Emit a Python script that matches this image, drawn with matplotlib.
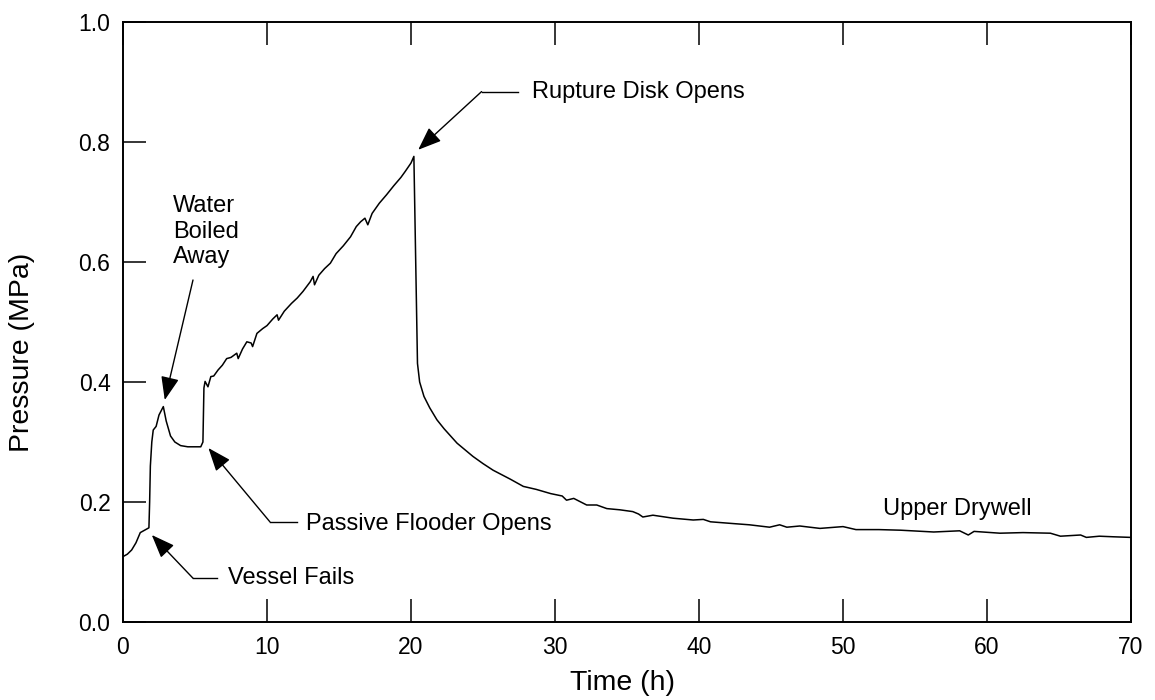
import matplotlib
matplotlib.use("Agg")
import matplotlib.pyplot as plt
from matplotlib.ticker import FormatStrFormatter

plt.rcParams['font.family'] = ['Liberation Sans', 'DejaVu Sans']

# ---- data ----
time_h = [0, 0.3, 0.6, 0.9, 1.2, 1.5, 1.8, 1.85, 1.9, 2.0, 2.1, 2.3, 2.5, 2.8,
          3.0, 3.3, 3.6, 4.0, 4.5, 5.0, 5.4, 5.55, 5.62, 5.7, 5.9, 6.1, 6.3,
          6.6, 6.9, 7.2, 7.5, 7.9, 8.0, 8.3, 8.6, 8.9, 9.0, 9.3, 9.7, 10.0,
          10.4, 10.7, 10.8, 11.2, 11.7, 12.1, 12.5, 13.0, 13.2, 13.3, 13.6,
          14.0, 14.4, 14.8, 15.3, 15.8, 16.2, 16.5, 16.8, 17.0, 17.3, 17.8,
          18.3, 18.8, 19.3, 19.6, 20.0, 20.2, 20.45, 20.6, 20.9, 21.3, 21.8,
          22.3, 23.2, 24.3, 25.0, 25.7, 26.9, 27.8, 28.7, 29.7, 30.5, 30.8,
          31.3, 32.2, 32.9, 33.6, 34.5, 35.4, 35.8, 36.1, 36.8, 38.2, 39.6,
          40.3, 40.8, 42.4, 43.5, 44.9, 45.6, 46.1, 47.0, 48.4, 50.0, 50.9,
          52.5, 54.0, 56.3, 58.1, 58.7, 59.1, 60.9, 62.5, 64.4, 65.1, 66.5,
          66.9, 67.8, 68.8, 70.0]
pressure_mpa = [0.109, 0.113, 0.120, 0.132, 0.149, 0.153, 0.157, 0.200, 0.260,
                0.300, 0.320, 0.326, 0.345, 0.359, 0.335, 0.310, 0.300, 0.294,
                0.292, 0.292, 0.292, 0.300, 0.390, 0.401, 0.392, 0.409, 0.410,
                0.420, 0.428, 0.439, 0.441, 0.448, 0.439, 0.455, 0.467, 0.465,
                0.459, 0.481, 0.489, 0.494, 0.505, 0.512, 0.503, 0.518, 0.531,
                0.540, 0.551, 0.567, 0.576, 0.562, 0.578, 0.589, 0.598, 0.614,
                0.627, 0.642, 0.659, 0.667, 0.673, 0.662, 0.681, 0.698, 0.712,
                0.727, 0.741, 0.751, 0.765, 0.776, 0.431, 0.400, 0.376, 0.357,
                0.337, 0.322, 0.298, 0.276, 0.264, 0.253, 0.238, 0.226, 0.221,
                0.214, 0.210, 0.203, 0.206, 0.195, 0.195, 0.189, 0.187, 0.184,
                0.180, 0.175, 0.178, 0.173, 0.170, 0.171, 0.167, 0.164, 0.162,
                0.158, 0.162, 0.158, 0.160, 0.156, 0.159, 0.154, 0.154, 0.153,
                0.150, 0.152, 0.145, 0.151, 0.148, 0.149, 0.148, 0.143, 0.145,
                0.141, 0.143, 0.142, 0.141]
assert len(time_h) == len(pressure_mpa)

x_ticks = [0, 10, 20, 30, 40, 50, 60, 70]
y_ticks = [0.0, 0.2, 0.4, 0.6, 0.8, 1.0]

FS = 17
FS_LABEL = 20.5

fig = plt.figure(figsize=(11.55, 7.0), dpi=100)
ax = fig.add_axes([123/1155, 1 - 622/700, (1131 - 123)/1155, (622 - 22)/700])

ax.plot(time_h, pressure_mpa, color='black', lw=1.1)

ax.set_xlim(0, 70)
ax.set_ylim(0, 1.0)
ax.set_xticks(x_ticks)
ax.set_yticks(y_ticks)
ax.yaxis.set_major_formatter(FormatStrFormatter('%.1f'))
ax.tick_params(axis='both', direction='in', length=16.5, width=1.1,
               labelsize=16.5, color='black')
ax.tick_params(axis='x', top=True, pad=10)
ax.tick_params(axis='y', right=False, pad=9)
for s in ax.spines.values():
    s.set_linewidth(1.4)

ax.set_xlabel('Time (h)', fontsize=FS_LABEL, va='center')
ax.xaxis.set_label_coords((623 - 123) / 1008, (622 - 683) / 600)
ax.set_ylabel('Pressure (MPa)', fontsize=FS_LABEL, va='center')
ax.yaxis.set_label_coords((22 - 123) / 1008, (622 - 352) / 600)

arrow_kw = dict(arrowstyle='-|>,head_length=0.9,head_width=0.35', color='black',
                lw=1.0, shrinkA=0, shrinkB=0, mutation_scale=16)

# Water Boiled Away
ax.annotate('', xy=(2.9, 0.37), xytext=(4.86, 0.57), arrowprops=arrow_kw)
ax.text(3.47, 0.712, 'Water\nBoiled\nAway', fontsize=FS, ha='left', va='top',
        linespacing=1.22)

# Vessel Fails
ax.annotate('', xy=(2.0, 0.145), xytext=(4.86, 0.073), arrowprops=arrow_kw)
ax.plot([4.86, 6.53], [0.073, 0.073], color='black', lw=1.0)
ax.text(7.3, 0.073, 'Vessel Fails', fontsize=FS, ha='left', va='center')

# Passive Flooder Opens
ax.annotate('', xy=(5.93, 0.29), xytext=(10.2, 0.167), arrowprops=arrow_kw)
ax.plot([10.2, 12.1], [0.167, 0.167], color='black', lw=1.0)
ax.text(12.7, 0.163, 'Passive Flooder Opens', fontsize=FS, ha='left', va='center')

# Rupture Disk Opens
ax.annotate('', xy=(20.5, 0.787), xytext=(24.9, 0.884), arrowprops=arrow_kw)
ax.plot([24.9, 27.45], [0.884, 0.884], color='black', lw=1.0)
ax.text(28.4, 0.884, 'Rupture Disk Opens', fontsize=FS, ha='left', va='center')

# Upper Drywell
ax.text(52.8, 0.188, 'Upper Drywell', fontsize=FS, ha='left', va='center')

fig.savefig('out.png', dpi=100)
